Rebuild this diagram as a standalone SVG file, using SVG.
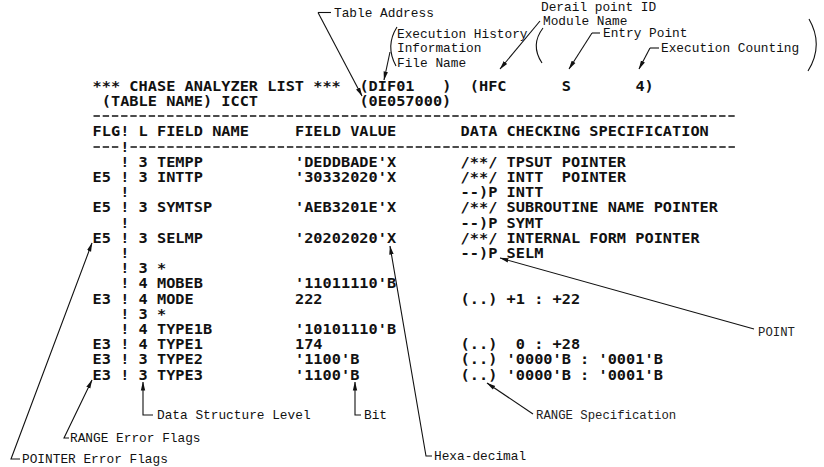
<svg xmlns="http://www.w3.org/2000/svg" width="824" height="467" viewBox="0 0 824 467">
<defs>
<marker id="ah" markerWidth="9" markerHeight="6" refX="8.5" refY="3" orient="auto" markerUnits="userSpaceOnUse">
<path d="M0,0.8 L9,3 L0,5.2 z" fill="#111"/>
</marker>
<style>
.l{font-family:"DejaVu Sans Mono","Liberation Mono",monospace;font-size:13.5px;font-weight:bold;letter-spacing:0.015px;fill:#111;}
.a{font-family:"Liberation Mono","Courier New",monospace;font-size:12.8px;fill:#111;}
.s{font-family:"Liberation Mono","Courier New",monospace;font-size:12.3px;fill:#222;}
.c{fill:none;stroke:#111;stroke-width:1.1;}
.k{marker-end:url(#ah);}
.d{stroke:#111;stroke-width:1.3;stroke-dasharray:6.4 2.8;}
</style>
</defs>
<rect width="824" height="467" fill="#fff"/>

<g id="listing" transform="scale(1.13 1)">
<g id="title" class="l">
<text x="81.95" y="90.9">*** CHASE ANALYZER LIST ***</text>
<text x="318.05" y="90.9">(DIF01</text>
<text x="391.33" y="90.9">)</text>
<text x="415.75" y="90.9">(HFC</text>
<text x="497.17" y="90.9">S</text>
<text x="562.3" y="90.9">4)</text>
<text x="90.09" y="106.1">(TABLE NAME) ICCT</text>
<text x="318.05" y="106.1">(0E057000)</text>
</g>
<g id="header" class="l">
<text x="81.95" y="136.5">FLG!</text>
<text x="122.66" y="136.5">L</text>
<text x="138.94" y="136.5">FIELD NAME</text>
<text x="261.06" y="136.5">FIELD VALUE</text>
<text x="407.61" y="136.5">DATA CHECKING SPECIFICATION</text>
<text x="106.37" y="151.7">!</text>
</g>
<g id="rows" class="l">
<text x="106.37" y="166.9">!</text><text x="122.66" y="166.9">3</text><text x="138.94" y="166.9">TEMPP</text><text x="261.06" y="166.9">'DEDDBADE'X</text><text x="407.61" y="166.9">/**/ TPSUT POINTER</text>
<text x="81.95" y="182.1">E5</text><text x="106.37" y="182.1">!</text><text x="122.66" y="182.1">3</text><text x="138.94" y="182.1">INTTP</text><text x="261.06" y="182.1">'30332020'X</text><text x="407.61" y="182.1">/**/ INTT</text><text x="497.17" y="182.1">POINTER</text>
<text x="106.37" y="197.3">!</text><text x="407.61" y="197.3">--)P INTT</text>
<text x="81.95" y="212.5">E5</text><text x="106.37" y="212.5">!</text><text x="122.66" y="212.5">3</text><text x="138.94" y="212.5">SYMTSP</text><text x="261.06" y="212.5">'AEB3201E'X</text><text x="407.61" y="212.5">/**/ SUBROUTINE NAME POINTER</text>
<text x="106.37" y="227.7">!</text><text x="407.61" y="227.7">--)P SYMT</text>
<text x="81.95" y="242.9">E5</text><text x="106.37" y="242.9">!</text><text x="122.66" y="242.9">3</text><text x="138.94" y="242.9">SELMP</text><text x="261.06" y="242.9">'20202020'X</text><text x="407.61" y="242.9">/**/ INTERNAL FORM POINTER</text>
<text x="106.37" y="258.1">!</text><text x="407.61" y="258.1">--)P SELM</text>
<text x="106.37" y="273.3">!</text><text x="122.66" y="273.3">3</text><text x="138.94" y="273.3">*</text>
<text x="106.37" y="288.5">!</text><text x="122.66" y="288.5">4</text><text x="138.94" y="288.5">MOBEB</text><text x="261.06" y="288.5">'11011110'B</text>
<text x="81.95" y="303.7">E3</text><text x="106.37" y="303.7">!</text><text x="122.66" y="303.7">4</text><text x="138.94" y="303.7">MODE</text><text x="261.06" y="303.7">222</text><text x="407.61" y="303.7">(..) +1 : +22</text>
<text x="106.37" y="318.9">!</text><text x="122.66" y="318.9">3</text><text x="138.94" y="318.9">*</text>
<text x="106.37" y="334.1">!</text><text x="122.66" y="334.1">4</text><text x="138.94" y="334.1">TYPE1B</text><text x="261.06" y="334.1">'10101110'B</text>
<text x="81.95" y="349.3">E3</text><text x="106.37" y="349.3">!</text><text x="122.66" y="349.3">4</text><text x="138.94" y="349.3">TYPE1</text><text x="261.06" y="349.3">174</text><text x="407.61" y="349.3">(..)</text><text x="456.46" y="349.3">0 : +28</text>
<text x="81.95" y="364.5">E3</text><text x="106.37" y="364.5">!</text><text x="122.66" y="364.5">3</text><text x="138.94" y="364.5">TYPE2</text><text x="261.06" y="364.5">'1100'B</text><text x="407.61" y="364.5">(..) '0000'B : '0001'B</text>
<text x="81.95" y="379.7">E3</text><text x="106.37" y="379.7">!</text><text x="122.66" y="379.7">3</text><text x="138.94" y="379.7">TYPE3</text><text x="261.06" y="379.7">'1100'B</text><text x="407.61" y="379.7">(..) '0000'B : '0001'B</text>
</g>
</g>

<g id="rules">
<line class="d" x1="93.5" y1="116" x2="737" y2="116"/>
<line class="d" x1="93.5" y1="147" x2="120" y2="147"/>
<line class="d" x1="130.5" y1="147" x2="737" y2="147"/>
</g>

<g id="connectors">
<path class="c" d="M331,12.5 H318"/>
<path class="c k" d="M318,12.5 L362,96"/>
<path class="c" d="M397,27 Q385,46 396,66"/>
<path class="c k" d="M390,52 L384,80"/>
<path class="c k" d="M540,21 L500,69"/>
<path class="c" d="M543,28 Q530,45 542,63"/>
<path class="c" d="M809,19 Q824,45 808,71"/>
<path class="c" d="M600,33 H592"/>
<path class="c k" d="M592,33 L569,69"/>
<path class="c" d="M659,48 H650"/>
<path class="c k" d="M650,48 L639,69"/>
<path class="c k" d="M754,329 L500,258"/>
<path class="c k" d="M533,414 L487,383"/>
<path class="c k" d="M153,415 H143 V382"/>
<path class="c k" d="M361,415 H355 V382"/>
<path class="c k" d="M69,438 H64 L92,380"/>
<path class="c k" d="M20,459 H11 L92,243"/>
<path class="c k" d="M432,456 H426 L390,246"/>
</g>

<g id="label-table-address"><text class="a" x="334" y="16.7">Table Address</text></g>
<g id="label-exec-history">
<text class="a" x="397" y="37.5">Execution History</text>
<text class="a" x="397" y="52">Information</text>
<text class="a" x="397" y="66.5">File Name</text>
</g>
<g id="label-derail"><text class="a" x="541" y="10.8">Derail point ID</text></g>
<g id="label-module"><text class="a" x="543" y="25.3">Module Name</text></g>
<g id="label-entry"><text class="a" x="603" y="37.3">Entry Point</text></g>
<g id="label-exec-count"><text class="a" x="661" y="52.3">Execution Counting</text></g>
<g id="label-point"><text class="s" x="758" y="336">POINT</text></g>
<g id="label-range-spec"><text class="s" x="536" y="419">RANGE Specification</text></g>
<g id="label-dsl"><text class="a" x="157" y="419">Data Structure Level</text></g>
<g id="label-bit"><text class="a" x="364" y="419">Bit</text></g>
<g id="label-range-err"><text class="a" x="70" y="442">RANGE Error Flags</text></g>
<g id="label-pointer-err"><text class="a" x="22" y="463">POINTER Error Flags</text></g>
<g id="label-hexa"><text class="a" x="434" y="460">Hexa-decimal</text></g>
</svg>
